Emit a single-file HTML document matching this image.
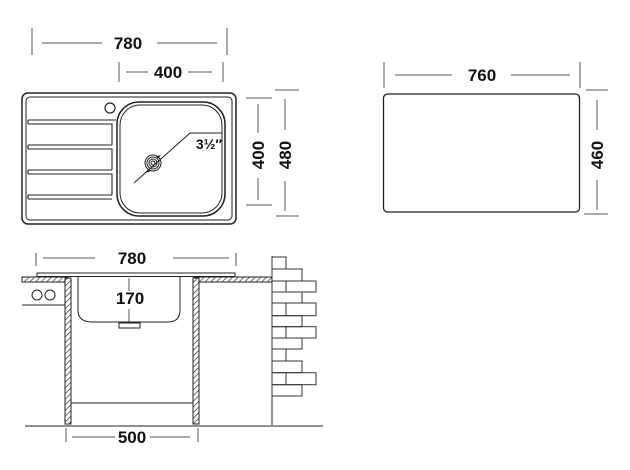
<!DOCTYPE html>
<html><head><meta charset="utf-8"><style>
html,body{margin:0;padding:0;background:#fff;}
svg{display:block;}
text{font-family:"Liberation Sans",Arial,sans-serif;font-weight:bold;fill:#111;}
</style></head><body>
<svg width="630" height="470" viewBox="0 0 630 470" xmlns="http://www.w3.org/2000/svg">
<defs>
<pattern id="h" width="4" height="4" patternUnits="userSpaceOnUse" patternTransform="rotate(45)">
<rect width="4" height="4" fill="#fff"/><line x1="0" y1="0" x2="0" y2="4" stroke="#333" stroke-width="1.4"/>
</pattern>
</defs>
<g stroke="#555" stroke-width="1" fill="none">
<line x1="32" y1="28" x2="32" y2="55"/><line x1="227" y1="28" x2="227" y2="55"/>
<line x1="42" y1="43" x2="102" y2="43"/><line x1="157" y1="43" x2="217" y2="43"/>
<line x1="119" y1="62" x2="119" y2="82"/><line x1="223" y1="62" x2="223" y2="82"/>
<line x1="126" y1="72" x2="148" y2="72"/><line x1="188" y1="72" x2="212" y2="72"/>
<line x1="246" y1="98" x2="272" y2="98"/><line x1="246" y1="205" x2="272" y2="205"/>
<line x1="258" y1="104" x2="258" y2="133"/><line x1="258" y1="178" x2="258" y2="200"/>
<line x1="275" y1="90" x2="299" y2="90"/><line x1="276" y1="216" x2="299" y2="216"/>
<line x1="285" y1="99" x2="285" y2="130"/><line x1="285" y1="181" x2="285" y2="211"/>
<line x1="384" y1="62" x2="384" y2="88"/><line x1="580" y1="62" x2="580" y2="88"/>
<line x1="395" y1="75" x2="452" y2="75"/><line x1="511" y1="75" x2="570" y2="75"/>
<line x1="586" y1="90" x2="608" y2="90"/><line x1="584" y1="214" x2="608" y2="214"/>
<line x1="597" y1="100" x2="597" y2="130"/><line x1="597" y1="180" x2="597" y2="210"/>
</g>
<g stroke="#222" fill="none">
<rect x="383.5" y="94" width="196" height="118" rx="4" stroke-width="1.3"/>
<rect x="22" y="93" width="214" height="131" rx="6" stroke-width="1.5"/>
<rect x="26" y="97" width="206" height="123" rx="4" stroke-width="1"/>
<circle cx="110" cy="108" r="5" stroke-width="1.2"/>
<rect x="117" y="102" width="108" height="114" rx="22" stroke-width="1.5"/>
<rect x="120" y="105" width="102" height="108" rx="20" stroke-width="1"/>
<path d="M28 120 H116 M28 124 H112 V145 M28 145 H112 M28 149 H112 V170 M28 170 H112 M28 174 H112 V195 M28 195 H112 M28 199 H112 M28 120 V124 M28 145 V149 M28 170 V174 M28 195 V199" stroke-width="1.1"/>
<circle cx="153" cy="163" r="8" stroke-width="1"/><circle cx="153" cy="163" r="6" stroke-width="1"/>
<circle cx="153" cy="163" r="4" stroke-width="1"/><circle cx="153" cy="163" r="2" stroke-width="1"/>
<path d="M134 183 L190 133 H222" stroke-width="1"/>
</g>
<path d="M145 173 l5 -1.5 l-2 -2 z M161 155 l-5 1.5 l2 2 z" fill="#111"/>
<g font-size="17" text-anchor="middle">
<text x="128" y="49">780</text>
<text x="168" y="78">400</text>
<text x="482" y="81">760</text>
<text x="209" y="149" font-size="14">3½″</text>
<text transform="translate(264,155) rotate(-90)">400</text>
<text transform="translate(291,155) rotate(-90)">480</text>
<text transform="translate(603,155) rotate(-90)">460</text>
<text x="132" y="264">780</text>
<text x="130" y="304">170</text>
<text x="132" y="443">500</text>
</g>
<g stroke="#555" stroke-width="1" fill="none">
<line x1="36" y1="253" x2="36" y2="266"/><line x1="236" y1="253" x2="236" y2="266"/>
<line x1="43" y1="258" x2="95" y2="258"/><line x1="173" y1="258" x2="229" y2="258"/>
<line x1="66" y1="428" x2="66" y2="442"/><line x1="198" y1="428" x2="198" y2="442"/>
<line x1="72" y1="437" x2="115" y2="437"/><line x1="150" y1="437" x2="190" y2="437"/>
<line x1="129" y1="278" x2="129" y2="291"/><line x1="129" y1="309" x2="129" y2="322"/>
</g>
<g stroke="#222" stroke-width="1" fill="none">
<rect x="37" y="273" width="198" height="3.5" fill="#fff"/>
<rect x="22" y="277" width="46" height="5" fill="url(#h)"/>
<rect x="194" y="277" width="78" height="5" fill="url(#h)"/>
<rect x="65" y="278" width="6" height="146" fill="url(#h)"/>
<rect x="193" y="278" width="6" height="146" fill="url(#h)"/>
<path d="M78 277 V310 Q78 322 92 322 H168 Q180 322 180 310 V277"/>
<rect x="119" y="323" width="21" height="5"/>
<circle cx="37" cy="295" r="5"/><circle cx="50" cy="295" r="5"/>
<line x1="22" y1="305" x2="65" y2="305"/>
<line x1="71" y1="403" x2="193" y2="403"/>
<line x1="25" y1="426" x2="323" y2="426"/>
<line x1="272" y1="256" x2="272" y2="425"/>
<g stroke="#333">
<rect x="272" y="257" width="14" height="12"/>
<rect x="272" y="269" width="30" height="12"/>
<rect x="272" y="281" width="14" height="11"/><rect x="286" y="281" width="30" height="11"/>
<rect x="272" y="292" width="30" height="11"/>
<rect x="272" y="303" width="14" height="12.7"/><rect x="286" y="303" width="30" height="12.7"/>
<rect x="272" y="315.7" width="30" height="11"/>
<rect x="272" y="326.7" width="14" height="11.3"/><rect x="286" y="326.7" width="30" height="11.3"/>
<rect x="272" y="338" width="30" height="11"/>
<rect x="272" y="349" width="14" height="12"/>
<rect x="272" y="361" width="30" height="11.7"/>
<rect x="272" y="372.7" width="14" height="12"/><rect x="286" y="372.7" width="30" height="12"/>
<rect x="272" y="384.7" width="30" height="11.3"/>
</g>
</g>
</svg>
</body></html>
